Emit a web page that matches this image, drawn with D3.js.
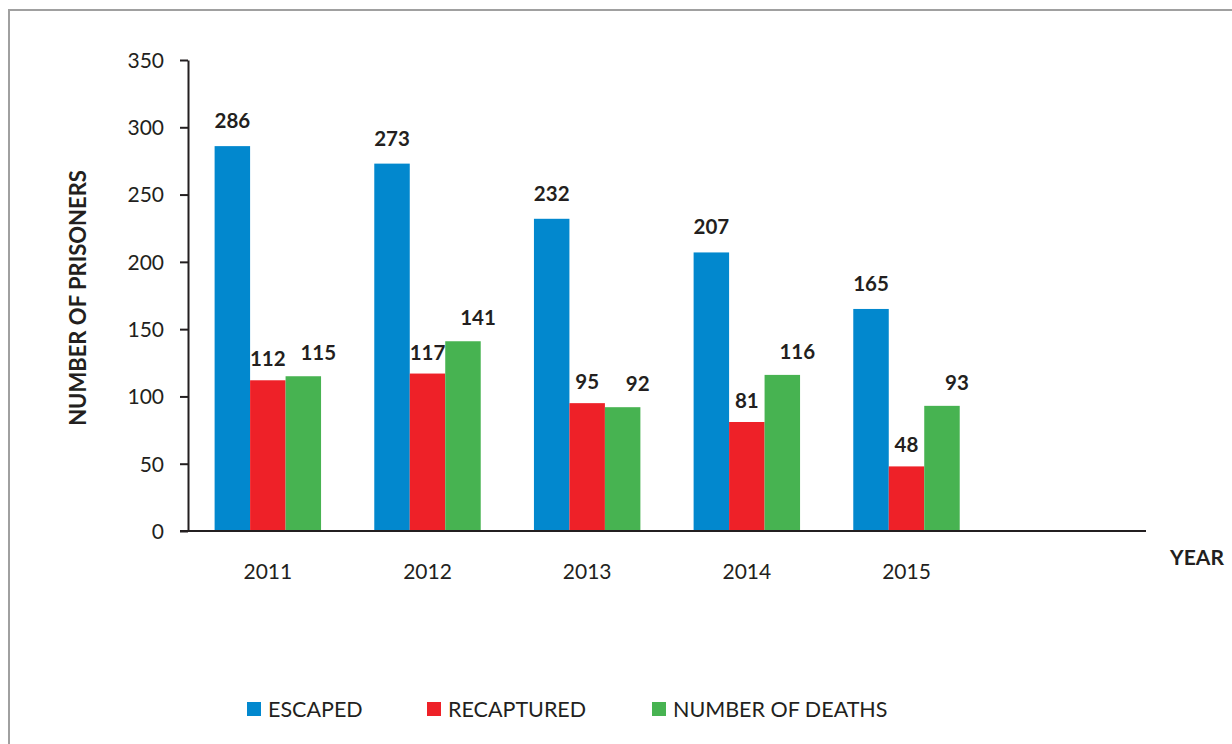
<!DOCTYPE html>
<html>
  <head>
    <title>Number of Prisoners by Year</title>
    <script src="https://d3js.org/d3.v7.min.js"></script>
    <style>
      body { margin: 0; background: #fff; }
      svg text { font-family: Lato, "Open Sans", sans-serif; fill: #231f20; }
      .axis path, .axis line { stroke: #231f20; stroke-width: 2px; }
      .axis text { font-size: 21px; }
      .valueLabel { font-size: 20.5px; font-weight: bold; }
    </style>
  </head>
  <body>
    <div id="chart"></div>
    <script>
      // Data
      const years = ["2011", "2012", "2013", "2014", "2015"];
      const escaped = [286, 273, 232, 207, 165];
      const recaptured = [112, 117, 95, 81, 48];
      const deaths = [115, 141, 92, 116, 93];
      const seriesNames = ["ESCAPED", "RECAPTURED", "NUMBER OF DEATHS"];
      const seriesColors = ["#0288ce", "#ee2128", "#47b351"];
      const yTicks = [0, 50, 100, 150, 200, 250, 300, 350];

      const allSeries = [escaped, recaptured, deaths];
      // label offsets per series (dx, dy from bar top)
      const labelShift = [[0, -18], [0, -14], [15, -16]];

      const W = 1232, H = 744;
      const svg = d3.select("#chart").append("svg").attr("width", W).attr("height", H);

      // outer frame
      svg.append("rect")
        .attr("x", 9).attr("y", 10)
        .attr("width", W).attr("height", H)
        .attr("fill", "none").attr("stroke", "#a0a0a0").attr("stroke-width", 2);

      // one spare empty slot on the right, like the original
      const x0 = d3.scaleBand().domain([...years, ""]).range([188, 1146]);
      const bw = x0.bandwidth();
      const x1 = d3.scaleBand().domain(seriesNames).range([bw / 6, bw * 5 / 6]);
      const y = d3.scaleLinear().domain([0, 350]).range([531, 60]);

      // bars
      const groups = svg.selectAll(".year")
        .data(years)
        .enter()
        .append("g")
        .attr("transform", (d) => `translate(${x0(d)},0)`);

      groups.each(function (yr, i) {
        const g = d3.select(this);
        seriesNames.forEach((name, s) => {
          const v = allSeries[s][i];
          g.append("rect")
            .attr("x", x1(name))
            .attr("y", y(v))
            .attr("width", x1.bandwidth())
            .attr("height", y(0) - y(v))
            .attr("fill", seriesColors[s]);
        });
        seriesNames.forEach((name, s) => {
          const v = allSeries[s][i];
          g.append("text")
            .attr("class", "valueLabel")
            .attr("text-anchor", "middle")
            .attr("x", x1(name) + x1.bandwidth() / 2 + labelShift[s][0])
            .attr("y", y(v) + labelShift[s][1])
            .text(v);
        });
      });

      // y axis
      svg.append("g")
        .attr("class", "axis")
        .attr("transform", "translate(188,0)")
        .call(d3.axisLeft(y).tickValues(yTicks).tickSize(8).tickPadding(16).tickSizeOuter(0))
        .selectAll("text").attr("dy", "0.35em");

      // x axis line + labels
      const xAxis = svg.append("g")
        .attr("class", "axis")
        .attr("transform", `translate(0,${y(0)})`)
        .call(d3.axisBottom(x0).tickSize(0).tickPadding(33).tickSizeOuter(0));
      xAxis.select(".domain").attr("d", `M180,0H1146`);

      // axis titles
      svg.append("text")
        .attr("x", 1197).attr("y", 565)
        .attr("text-anchor", "middle")
        .style("font-size", "21px").style("font-weight", "bold")
        .text("YEAR");

      svg.append("text")
        .attr("transform", "translate(86,298) rotate(-90)")
        .attr("text-anchor", "middle")
        .style("font-size", "22px").style("font-weight", "bold")
        .text("NUMBER OF PRISONERS");

      // legend
      const legendX = [247, 427, 652];
      const legend = svg.selectAll(".legendItem")
        .data(seriesNames)
        .enter()
        .append("g")
        .attr("transform", (d, i) => `translate(${legendX[i]},702)`);
      legend.append("rect")
        .attr("width", 14).attr("height", 14)
        .attr("fill", (d, i) => seriesColors[i]);
      legend.append("text")
        .attr("x", 21).attr("y", 15)
        .style("font-size", "21.5px")
        .text((d) => d);
    </script>
  </body>
</html>
